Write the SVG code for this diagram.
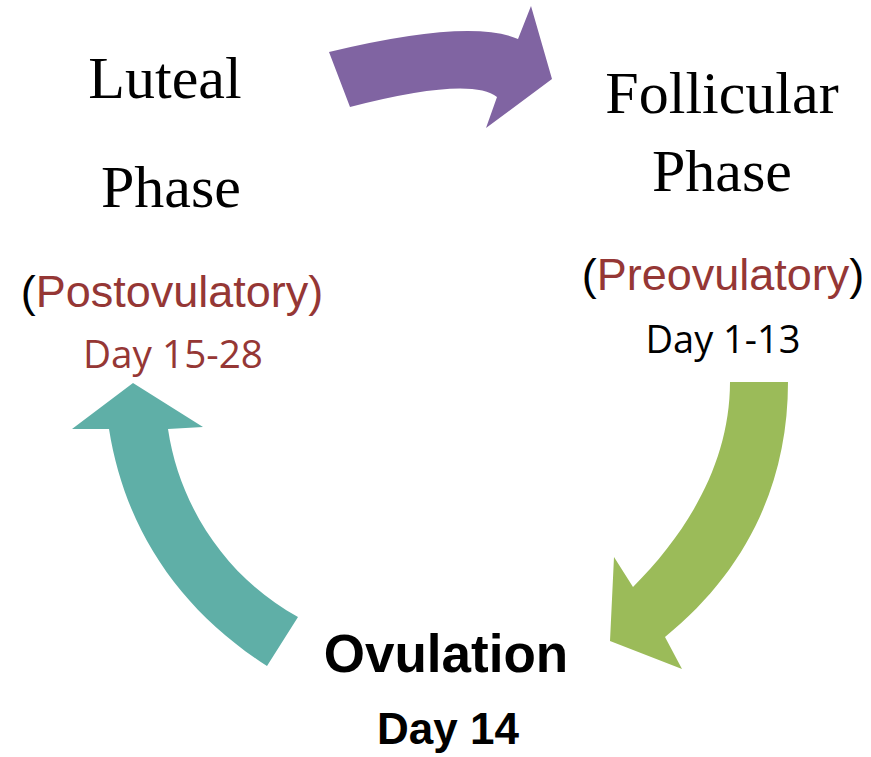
<svg xmlns="http://www.w3.org/2000/svg" width="871" height="757" viewBox="0 0 871 757">
<style>
.serif{font-family:"Liberation Serif","Times New Roman",serif;font-size:60px;fill:#000;text-anchor:middle}
.sans{font-family:"Liberation Sans",Arial,sans-serif;font-size:45px;text-anchor:middle}
.cal{font-family:"Open Sans","Liberation Sans",sans-serif;font-size:38px;text-anchor:middle}
.bold{font-family:"Liberation Sans",Arial,sans-serif;font-weight:bold;fill:#000;text-anchor:middle}
.red{fill:#953735}
.blk{fill:#000}
</style>
<rect width="871" height="757" fill="#fff"/>
<g id="connectors">
<path id="arrow-purple" fill="#8064A2" d="M329,52 Q470,18 518,39 L531,6 L552,79 L486,128 L497,97 Q470,76 350,107 Z"/>
<path id="arrow-green" fill="#9BBB59" d="M730,382 L788,382 C788,485 745,572 665,637 L682,669 L610,641 L614,557 L633,587 C690,530 730,460 730,382 Z"/>
<path id="arrow-teal" fill="#5FAFA7" d="M133,383 L203,427 L168,429 C180,510 230,580 298,617 L267,666 C180,610 125,530 109,429 L72,429 Z"/>
</g>
<g id="luteal">
<text class="serif" x="165" y="98">Luteal</text>
<text class="serif" x="171" y="207">Phase</text>
<text class="sans" x="172" y="307"><tspan class="blk">(</tspan><tspan class="red">Postovulatory)</tspan></text>
<text class="cal red" x="173" y="368" textLength="180" lengthAdjust="spacingAndGlyphs">Day 15-28</text>
</g>
<g id="follicular">
<text class="serif" x="722" y="113">Follicular</text>
<text class="serif" x="722" y="191">Phase</text>
<text class="sans" x="723" y="290"><tspan class="blk">(</tspan><tspan class="red">Preovulatory</tspan><tspan class="blk">)</tspan></text>
<text class="cal blk" x="723" y="353" textLength="155" lengthAdjust="spacingAndGlyphs">Day 1-13</text>
</g>
<g id="ovulation">
<text class="bold" x="446" y="672" font-size="53">Ovulation</text>
<text class="bold" x="448" y="744" font-size="44">Day 14</text>
</g>
</svg>
